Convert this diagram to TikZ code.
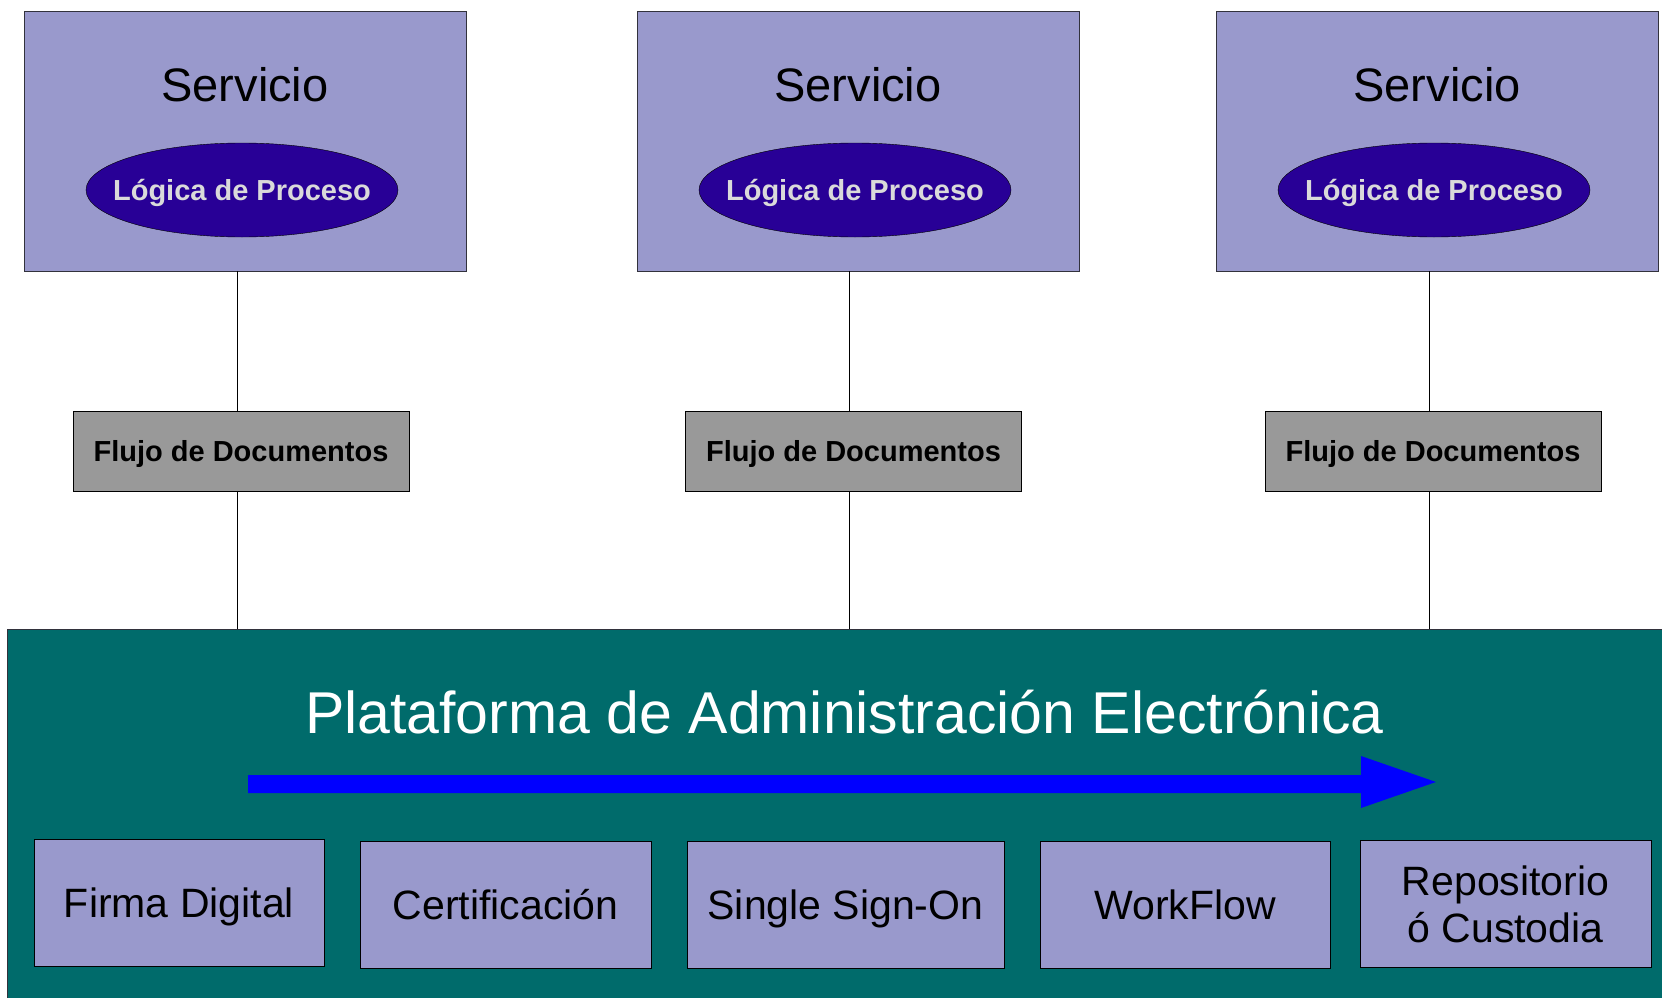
\documentclass[tikz,border=0pt]{standalone}
\usepackage{fontspec}
\setmainfont{Liberation Sans}
\usetikzlibrary{shapes.geometric}

\definecolor{servfill}{RGB}{153,153,204}
\definecolor{logfill}{RGB}{40,0,150}
\definecolor{logtext}{RGB}{218,218,218}
\definecolor{flujofill}{RGB}{153,153,153}
\definecolor{platfill}{RGB}{0,107,107}
\definecolor{boxline}{RGB}{50,50,60}

\begin{document}
\begin{tikzpicture}[x=1pt,y=-1pt,
    servbox/.style={draw=boxline,fill=servfill,minimum width=442pt,minimum height=260pt,inner sep=0pt},
    servname/.style={anchor=base,font=\fontsize{47}{56}\selectfont},
    logica/.style={ellipse,draw=black,fill=logfill,text=logtext,minimum width=312pt,minimum height=94pt,inner xsep=-22pt,inner ysep=0pt,text height=21pt,text depth=0pt,font=\fontsize{29}{35}\selectfont\bfseries},
    flujo/.style={draw=black,fill=flujofill,minimum width=336pt,minimum height=80pt,inner sep=0pt,text height=21pt,text depth=0pt,font=\fontsize{29}{35}\selectfont\bfseries},
    plat/.style={draw=boxline,fill=platfill,minimum width=1657pt,minimum height=372pt,inner sep=0pt},
    platname/.style={anchor=base,text=white,font=\fontsize{59}{70}\selectfont},
    modulo/.style={draw=black,fill=servfill,minimum height=127pt,inner sep=0pt,align=center,font=\fontsize{41}{47}\selectfont},
    unalinea/.style={text height=29pt,text depth=0pt}]
        \useasboundingbox (0,0) rectangle (1662,998);
        % servicios
        \node[servbox] (S1) at (245,141) {};
        \node[servbox] (S2) at (858,141) {};
        \node[servbox] (S3) at (1437,141) {};
        \node[servname] (N1) at (245,101) {Servicio};
        \node[servname] (N2) at (858,101) {Servicio};
        \node[servname] (N3) at (1437,101) {Servicio};
        \node[logica] (L1) at (242,190) {Lógica de Proceso};
        \node[logica] (L2) at (855,190) {Lógica de Proceso};
        \node[logica] (L3) at (1434,190) {Lógica de Proceso};
        % flujos
        \node[flujo] (F1) at (241,451) {Flujo de Documentos};
        \node[flujo] (F2) at (853.5,451) {Flujo de Documentos};
        \node[flujo] (F3) at (1433,451) {Flujo de Documentos};
        % plataforma
        \node[plat] (P) at (835.5,815) {};
        \node[platname] (PN) at (844.5,733) {Plataforma de Administración Electrónica};
        \fill[blue] (248,775) -- (1361,775) -- (1361,756) -- (1436,782)
          -- (1361,808) -- (1361,793) -- (248,793) -- cycle;
        \node[modulo,unalinea,minimum width=290pt] (FD) at (179,903) {Firma Digital};
        \node[modulo,unalinea,minimum width=291pt] (CE) at (505.5,905) {Certificación};
        \node[modulo,unalinea,minimum width=317pt] (SSO) at (845.5,905) {Single Sign-On};
        \node[modulo,unalinea,minimum width=290pt] (WF) at (1185,905) {WorkFlow};
        \node[modulo,minimum width=291pt] (RC) at (1505.5,904) {Repositorio\\ó Custodia};
        \draw[line width=0.9pt]
          ([xshift=-4pt]F1.north) -- ([xshift=-4pt]F1.north |- S1.south)
          ([xshift=-4pt]F2.north) -- ([xshift=-4pt]F2.north |- S2.south)
          ([xshift=-4pt]F3.north) -- ([xshift=-4pt]F3.north |- S3.south)
          ([xshift=-4pt]F1.south) -- ([xshift=-4pt]F1.south |- P.north)
          ([xshift=-4pt]F2.south) -- ([xshift=-4pt]F2.south |- P.north)
          ([xshift=-4pt]F3.south) -- ([xshift=-4pt]F3.south |- P.north)
          ;
\end{tikzpicture}
\end{document}
